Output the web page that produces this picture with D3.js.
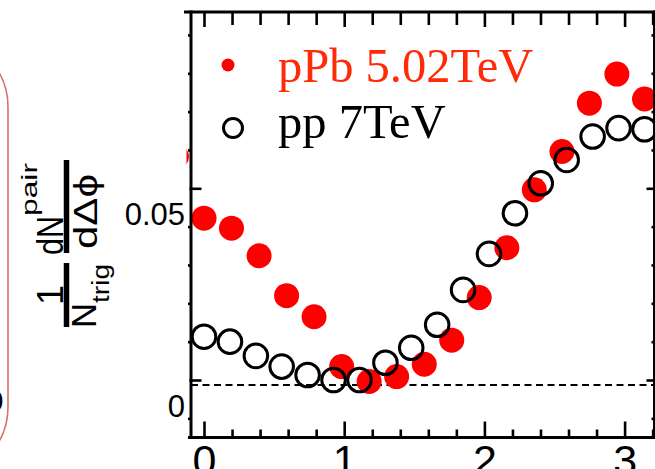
<!DOCTYPE html>
<meta charset="utf-8">
<style>
  body { margin: 0; overflow: hidden; background: #fff; }
  svg { display: block; }
  .axis path { display: none; }
  .axis line { stroke: #000; stroke-width: 2.6; }
  .axis text { font-family: "Liberation Sans", Arial, sans-serif; fill: #000; }
  .frame line { stroke: #000; stroke-width: 3; }
  .ytitle text { font-family: "Liberation Sans", Arial, sans-serif; fill: #000; }
  .legend text { font-family: "Liberation Serif", "Times New Roman", serif; font-size: 48.5px; }
</style>
<body>
</body>
<script src="https://cdn.jsdelivr.net/npm/d3@7"></script>
<script>

var width = 655,
    height = 469;

// delta phi (rad) and per-trigger pair yield
var pPbPhi   = [-0.196, 0, 0.196, 0.393, 0.589, 0.785, 0.982, 1.178, 1.374, 1.571, 1.767, 1.963, 2.160, 2.356, 2.553, 2.749, 2.945, 3.142];
var pPbYield = [0.0582, 0.0422, 0.0396, 0.0324, 0.0220, 0.0165, 0.0035, -0.0004, 0.0009, 0.0041, 0.0104, 0.0215, 0.0345, 0.0496, 0.0596, 0.0722, 0.0798, 0.0733];

var ppPhi   = [0, 0.185, 0.370, 0.554, 0.739, 0.924, 1.109, 1.294, 1.478, 1.663, 1.848, 2.033, 2.218, 2.402, 2.587, 2.772, 2.957, 3.142];
var ppYield = [0.0113, 0.0100, 0.0063, 0.0035, 0.0013, 0.0000, 0.0000, 0.0045, 0.0084, 0.0144, 0.0235, 0.0329, 0.0435, 0.0513, 0.0574, 0.0635, 0.0657, 0.0654];

var zyamLevel = -0.0013;

var xMajor = [0, 1, 2, 3];
var xMinor = [0.2, 0.4, 0.6, 0.8, 1.2, 1.4, 1.6, 1.8, 2.2, 2.4, 2.6, 2.8, 3.2];
var yMajor = [0, 0.05];
var yLabels = ["0", "0.05"];
var yMinor = [-0.01, 0.01, 0.02, 0.03, 0.04, 0.06, 0.07, 0.08, 0.09];

var legendLabels = ["pPb 5.02TeV", "pp 7TeV"];

var box = {left: 191, right: 654.5, top: 12, bottom: 437.5};

var x = d3.scaleLinear().domain([0, 3]).range([204, 624.6]);
var y = d3.scaleLinear().domain([0, 0.05]).range([380, 188.3]);

var svg = d3.select("body").append("svg")
    .attr("width", width)
    .attr("height", height);

// piece of the neighbouring panel, cut at the left edge
svg.append("rect")
    .attr("x", -400)
    .attr("y", 37)
    .attr("width", 408)
    .attr("height", 440)
    .attr("rx", 70)
    .style("fill", "none")
    .style("stroke", "#d6716b")
    .style("stroke-width", 1.6);

svg.append("text")
    .attr("x", 3.5)
    .attr("y", 411)
    .attr("text-anchor", "end")
    .style("font-family", "Liberation Sans, Arial, sans-serif")
    .style("font-size", "30px")
    .text("0");

svg.append("defs").append("clipPath")
    .attr("id", "clip")
  .append("rect")
    .attr("x", 186.5)
    .attr("y", box.top)
    .attr("width", width - 186.5)
    .attr("height", box.bottom - box.top);

var plot = svg.append("g")
    .attr("clip-path", "url(#clip)");

plot.append("line")
    .attr("x1", box.left)
    .attr("x2", width)
    .attr("y1", y(zyamLevel))
    .attr("y2", y(zyamLevel))
    .style("stroke", "#000")
    .style("stroke-width", 1.8)
    .style("stroke-dasharray", "7,4.5");

plot.selectAll(".ppb")
    .data(pPbPhi)
  .enter().append("circle")
    .attr("class", "ppb")
    .attr("cx", d => x(d))
    .attr("cy", (d, i) => y(pPbYield[i]))
    .attr("r", 12.5)
    .style("fill", "#ff0000");

plot.selectAll(".pp")
    .data(ppPhi)
  .enter().append("circle")
    .attr("class", "pp")
    .attr("cx", d => x(d))
    .attr("cy", (d, i) => y(ppYield[i]))
    .attr("r", 11.8)
    .style("fill", "none")
    .style("stroke", "#000")
    .style("stroke-width", 3);

// ticks
svg.append("g")
    .attr("class", "axis")
    .attr("transform", "translate(0," + box.bottom + ")")
    .call(d3.axisBottom(x).tickValues(xMajor).tickSize(-16).tickPadding(7).tickFormat(d3.format("d")))
    .selectAll("text")
    .style("font-size", "43px");

svg.append("g")
    .attr("class", "axis")
    .attr("transform", "translate(0," + box.bottom + ")")
    .call(d3.axisBottom(x).tickValues(xMinor).tickSize(-8).tickFormat(""));

svg.append("g")
    .attr("class", "axis")
    .attr("transform", "translate(0," + box.top + ")")
    .call(d3.axisTop(x).tickValues(xMajor).tickSize(-15).tickFormat(""));

svg.append("g")
    .attr("class", "axis")
    .attr("transform", "translate(0," + box.top + ")")
    .call(d3.axisTop(x).tickValues(xMinor).tickSize(-13).tickFormat(""));

svg.append("g")
    .attr("class", "axis")
    .attr("transform", "translate(189.5,0)")
    .call(d3.axisLeft(y).tickValues(yMajor).tickSize(-12).tickPadding(4.5).tickFormat((d, i) => yLabels[i]))
    .selectAll("text")
    .attr("y", 26.5)
    .style("font-size", "31px");

svg.append("g")
    .attr("class", "axis")
    .attr("transform", "translate(" + box.left + ",0)")
    .call(d3.axisLeft(y).tickValues(yMinor).tickSize(3).tickFormat(""));

svg.append("g")
    .attr("class", "axis")
    .attr("transform", "translate(" + box.right + ",0)")
    .call(d3.axisRight(y).tickValues(yMajor).tickSize(-8).tickFormat(""));

svg.append("g")
    .attr("class", "axis")
    .attr("transform", "translate(" + box.right + ",0)")
    .call(d3.axisRight(y).tickValues(yMinor).tickSize(-3).tickFormat(""));

var frame = svg.append("g").attr("class", "frame");
frame.append("line").attr("x1", 184).attr("x2", width).attr("y1", box.top).attr("y2", box.top);
frame.append("line").attr("x1", 188).attr("x2", width).attr("y1", box.bottom).attr("y2", box.bottom);
frame.append("line").attr("x1", box.left).attr("x2", box.left).attr("y1", box.top - 1.5).attr("y2", box.bottom + 1.5);
frame.append("line").attr("x1", box.right).attr("x2", box.right).attr("y1", box.top - 1.5).attr("y2", box.bottom + 1.5);

// y title: 1/N_trig dN^pair/dDphi, rotated (local x = -screen y, local y = screen x)
var title = svg.append("g")
    .attr("class", "ytitle")
    .attr("transform", "rotate(-90)");

title.append("line")
    .attr("x1", -253).attr("x2", -160)
    .attr("y1", 66.5).attr("y2", 66.5)
    .style("stroke", "#000").style("stroke-width", 5.5);

title.append("line")
    .attr("x1", -327).attr("x2", -263)
    .attr("y1", 66.5).attr("y2", 66.5)
    .style("stroke", "#000").style("stroke-width", 5.5);

title.append("text")
    .attr("x", -255).attr("y", 63)
    .attr("textLength", 39)
    .attr("lengthAdjust", "spacingAndGlyphs")
    .style("font-size", "36px")
    .text("dN");

title.append("text")
    .attr("x", -216).attr("y", 37)
    .attr("textLength", 53)
    .attr("lengthAdjust", "spacingAndGlyphs")
    .style("font-size", "22px")
    .text("pair");

title.append("text")
    .attr("x", -249).attr("y", 97)
    .attr("textLength", 75)
    .attr("lengthAdjust", "spacingAndGlyphs")
    .style("font-size", "34px")
    .text("dΔϕ");

title.append("text")
    .attr("x", -295).attr("y", 63)
    .attr("text-anchor", "middle")
    .style("font-size", "36px")
    .text("1");

title.append("text")
    .attr("x", -328).attr("y", 96)
    .attr("textLength", 25)
    .attr("lengthAdjust", "spacingAndGlyphs")
    .style("font-size", "35px")
    .text("N");

title.append("text")
    .attr("x", -303).attr("y", 109)
    .attr("textLength", 39)
    .attr("lengthAdjust", "spacingAndGlyphs")
    .style("font-size", "23px")
    .text("trig");

// legend
var legend = svg.append("g").attr("class", "legend");

legend.append("circle")
    .attr("cx", 228).attr("cy", 65).attr("r", 6.5)
    .style("fill", "#ff0000");

legend.append("circle")
    .attr("cx", 233).attr("cy", 128).attr("r", 9.5)
    .style("fill", "none").style("stroke", "#000").style("stroke-width", 3);

legend.append("text")
    .attr("x", 278).attr("y", 82)
    .style("fill", "#ff2a08")
    .text(legendLabels[0]);

legend.append("text")
    .attr("x", 278).attr("y", 138)
    .style("fill", "#000")
    .text(legendLabels[1]);

</script>
